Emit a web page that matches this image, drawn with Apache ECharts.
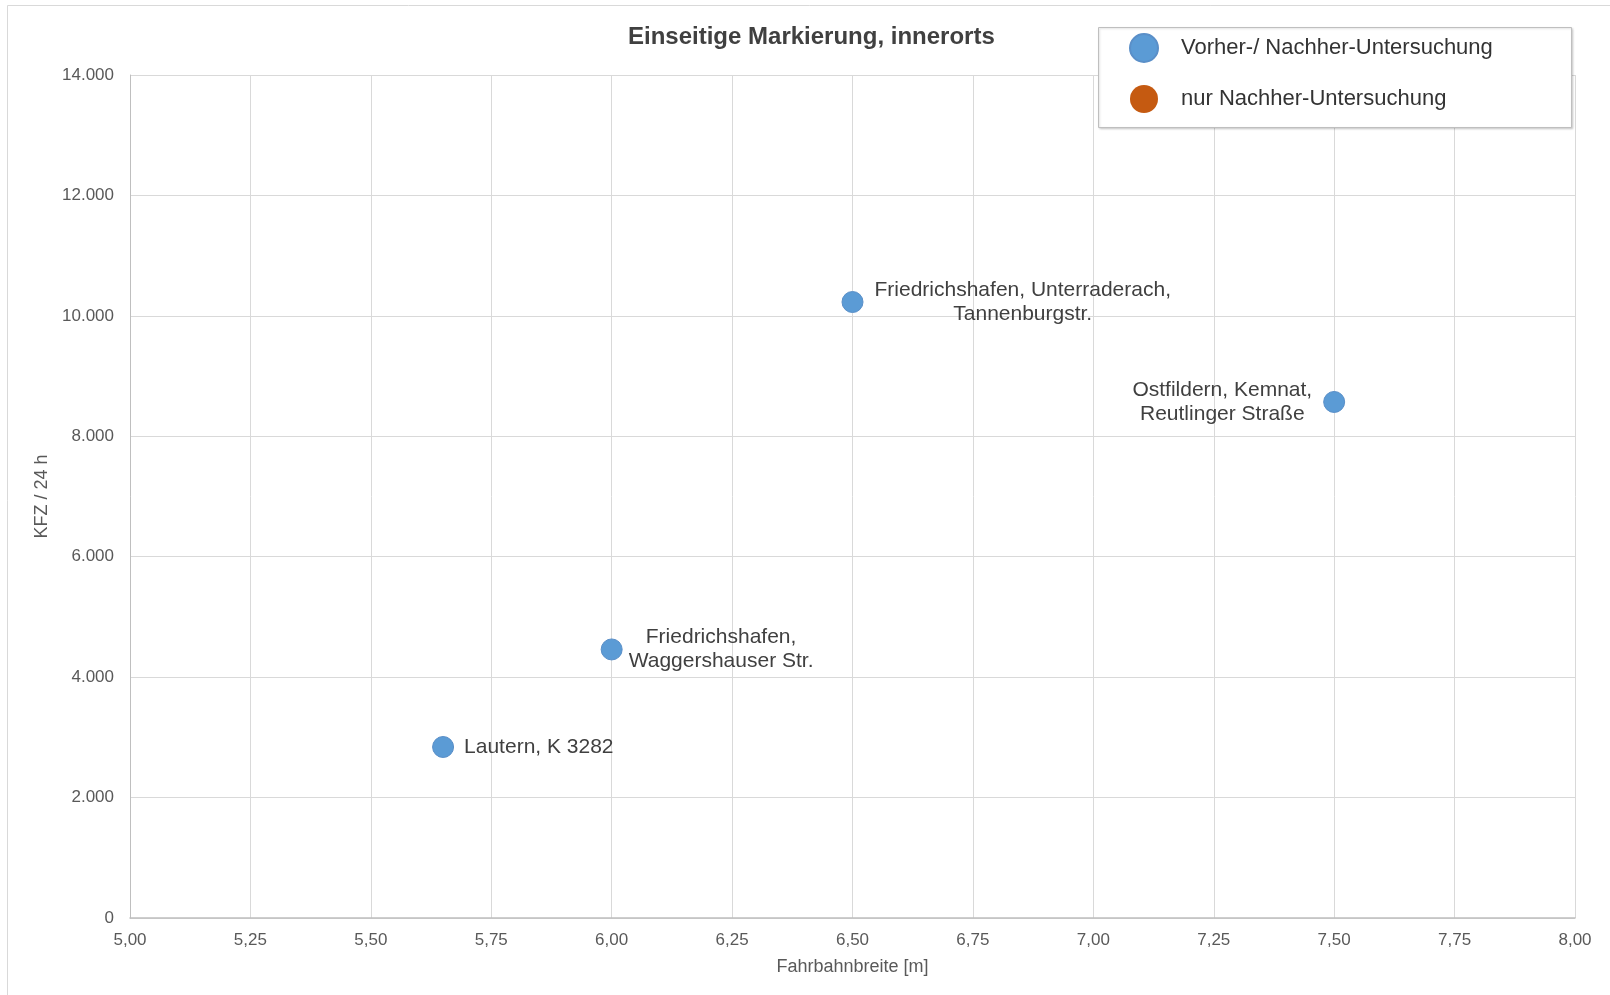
<!DOCTYPE html>
<html>
<head>
<meta charset="utf-8">
<script src="https://cdn.jsdelivr.net/npm/echarts@6/dist/echarts.min.js"></script>
<style>
html,body{margin:0;padding:0;background:#fff;}
#c{width:1610px;height:995px;}
</style>
</head>
<body>
<div id="c"></div>
<script>
// ---- data ----
const chartTitle = 'Einseitige Markierung, innerorts';
const seriesNames = ['Vorher-/ Nachher-Untersuchung', 'nur Nachher-Untersuchung'];
const pointNames = ['Lautern, K 3282', 'Friedrichshafen,\nWaggershauser Str.', 'Friedrichshafen, Unterraderach,\nTannenburgstr.', 'Ostfildern, Kemnat,\nReutlinger Straße'];
const fahrbahnbreite = [5.65, 6.00, 6.50, 7.50];
const kfz = [2840, 4460, 10230, 8570];
const nurNachherBreite = [];
const nurNachherKfz = [];
const xAxisName = 'Fahrbahnbreite [m]';
const yAxisName = 'KFZ / 24 h';

const FONT = '"Liberation Sans", Arial, sans-serif';
const labelSide = ['right', 'right', 'right', 'left'];
const labelDist = [10, 6, 11, 11];

const chart = echarts.init(document.getElementById('c'), null, {renderer: 'canvas'});

function fmtThousands(v) {
  return String(Math.round(v)).replace(/\B(?=(\d{3})+(?!\d))/g, '.');
}

const mainData = fahrbahnbreite.map((x, i) => ({
  value: [x, kfz[i]],
  name: pointNames[i],
  label: { position: labelSide[i], distance: labelDist[i] }
}));

const option = {
  backgroundColor: '#ffffff',
  animation: false,
  title: {
    text: chartTitle,
    left: 628, top: 25, padding: 0,
    textStyle: { fontFamily: FONT, fontSize: 24, fontWeight: 'bold', color: '#404040' }
  },
  graphic: [
    { type: 'rect', shape: { x: 7.5, y: 5.5, width: 1700, height: 1100 },
      style: { fill: 'none', stroke: '#d9d9d9', lineWidth: 1 }, z: -10, silent: true },
    { type: 'rect', shape: { x: 1098.5, y: 27.5, width: 473, height: 100 },
      style: { fill: '#ffffff', stroke: '#bfbfbf', lineWidth: 1, shadowColor: 'rgba(0,0,0,0.15)', shadowBlur: 2, shadowOffsetX: 1, shadowOffsetY: 1 },
      z: 5, silent: true }
  ],
  legend: {
    orient: 'vertical',
    left: 1129, top: 33,
    padding: 0,
    itemWidth: 28, itemHeight: 28,
    itemGap: 22,
    icon: 'circle',
    z: 10,
    itemStyle: { opacity: 1 },
    textStyle: { fontFamily: FONT, fontSize: 22, color: '#333333', padding: [0, 0, 0, 18] },
    data: seriesNames
  },
  grid: { left: 130, right: 35, top: 75, bottom: 77, containLabel: false },
  xAxis: {
    type: 'value',
    min: 5, max: 8, interval: 0.25,
    name: xAxisName, nameLocation: 'middle', nameGap: 40,
    nameTextStyle: { fontFamily: FONT, fontSize: 18, color: '#595959' },
    axisLine: { show: true, lineStyle: { color: '#bfbfbf', width: 1.5 } },
    axisTick: { show: false },
    axisLabel: { fontFamily: FONT, fontSize: 17, color: '#595959', margin: 14,
      formatter: v => v.toFixed(2).replace('.', ',') },
    splitLine: { show: true, lineStyle: { color: '#d9d9d9', width: 1 } }
  },
  yAxis: {
    type: 'value',
    min: 0, max: 14000, interval: 2000,
    name: yAxisName, nameLocation: 'middle', nameGap: 78, nameRotate: 90,
    nameTextStyle: { fontFamily: FONT, fontSize: 18, color: '#595959' },
    axisLine: { show: true, lineStyle: { color: '#bfbfbf', width: 1 } },
    axisTick: { show: false },
    axisLabel: { fontFamily: FONT, fontSize: 17, color: '#595959', margin: 16,
      formatter: v => fmtThousands(v) },
    splitLine: { show: true, lineStyle: { color: '#d9d9d9', width: 1 } }
  },
  series: [
    {
      name: seriesNames[0],
      type: 'scatter',
      symbol: 'circle',
      symbolSize: 21,
      itemStyle: { color: '#5B9BD5', borderColor: '#5a8fc8', borderWidth: 1, opacity: 1 },
      label: {
        show: true,
        fontFamily: FONT, fontSize: 21, color: '#404040', lineHeight: 24,
        formatter: p => p.name.split('\n').map(s => '{c|' + s + '}').join('\n'),
        rich: { c: { align: 'center', fontFamily: FONT, fontSize: 21, color: '#404040', lineHeight: 24 } }
      },
      data: mainData,
      z: 3
    },
    {
      name: seriesNames[1],
      type: 'scatter',
      symbol: 'circle',
      symbolSize: 21,
      itemStyle: { color: '#C55A11', opacity: 1 },
      data: nurNachherBreite.map((x, i) => [x, nurNachherKfz[i]])
    }
  ]
};
chart.setOption(option);
</script>
</body>
</html>
